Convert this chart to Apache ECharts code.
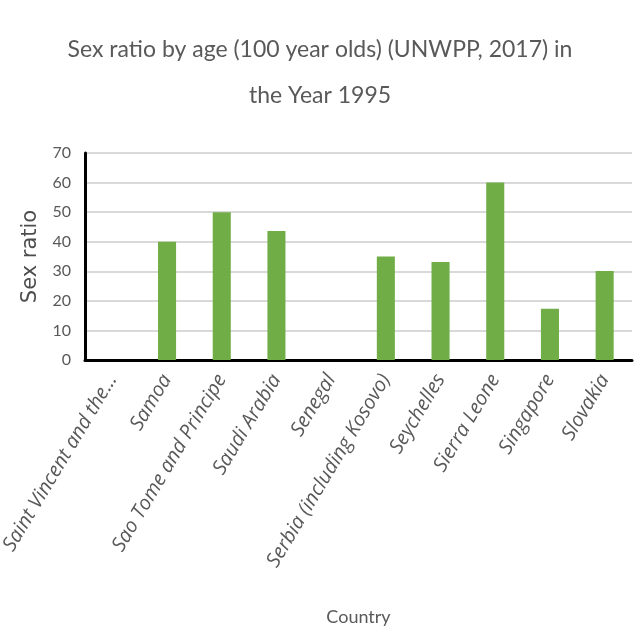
<!DOCTYPE html>
<html><head><meta charset="utf-8">
<script src="https://cdn.jsdelivr.net/npm/echarts@6/dist/echarts.min.js"></script>
<style>html,body{margin:0;padding:0;background:#fff}#c{width:640px;height:640px}</style>
</head><body><div id="c"></div>
<script>
var categories = ["Saint Vincent and the...", "Samoa", "Sao Tome and Principe", "Saudi Arabia", "Senegal", "Serbia (including Kosovo)", "Seychelles", "Sierra Leone", "Singapore", "Slovakia"];
var values = [null, 40, 50, 43.6, null, 35, 33.1, 60, 17.3, 30.1];
var yTicks = [0, 10, 20, 30, 40, 50, 60, 70];

var chart = echarts.init(document.getElementById('c'));
chart.setOption({
  animation: false,
  backgroundColor: '#fff',
  title: {
    text: 'Sex ratio by age (100 year olds) (UNWPP, 2017) in\nthe Year 1995',
    left: 'center', top: 22,
    textStyle: { fontFamily: 'Lato', fontWeight: 'normal', fontSize: 23, color: '#595959', lineHeight: 46 }
  },
  grid: { left: 85, right: 8, top: 153, bottom: 280, containLabel: false, outerBoundsMode: 'none' },
  xAxis: {
    type: 'category', data: categories,
    name: 'Country', nameLocation: 'middle', nameGap: 248,
    nameTextStyle: { fontFamily: 'Lato', fontSize: 18, color: '#595959' },
    axisLine: { lineStyle: { color: '#000', width: 3 } },
    axisTick: { show: false },
    axisLabel: { interval: 0, rotate: 59, margin: 16, fontFamily: 'Open Sans', fontStyle: 'italic', fontSize: 20, color: '#595959' }
  },
  yAxis: {
    type: 'value', min: yTicks[0], max: yTicks[yTicks.length - 1], interval: 10,
    name: 'Sex ratio', nameLocation: 'middle', nameGap: 42,
    nameTextStyle: { fontFamily: 'DejaVu Sans', fontSize: 21, color: '#4d4d4d' },
    axisLine: { show: true, lineStyle: { color: '#000', width: 3 } },
    axisTick: { show: false },
    axisLabel: { fontFamily: 'Lato', fontSize: 16, color: '#595959', margin: 14 },
    splitLine: { lineStyle: { color: '#d9d9d9', width: 2 } }
  },
  series: [{
    type: 'bar', data: values, barWidth: '33%',
    itemStyle: { color: '#70ad47' }
  }]
});
</script></body></html>
